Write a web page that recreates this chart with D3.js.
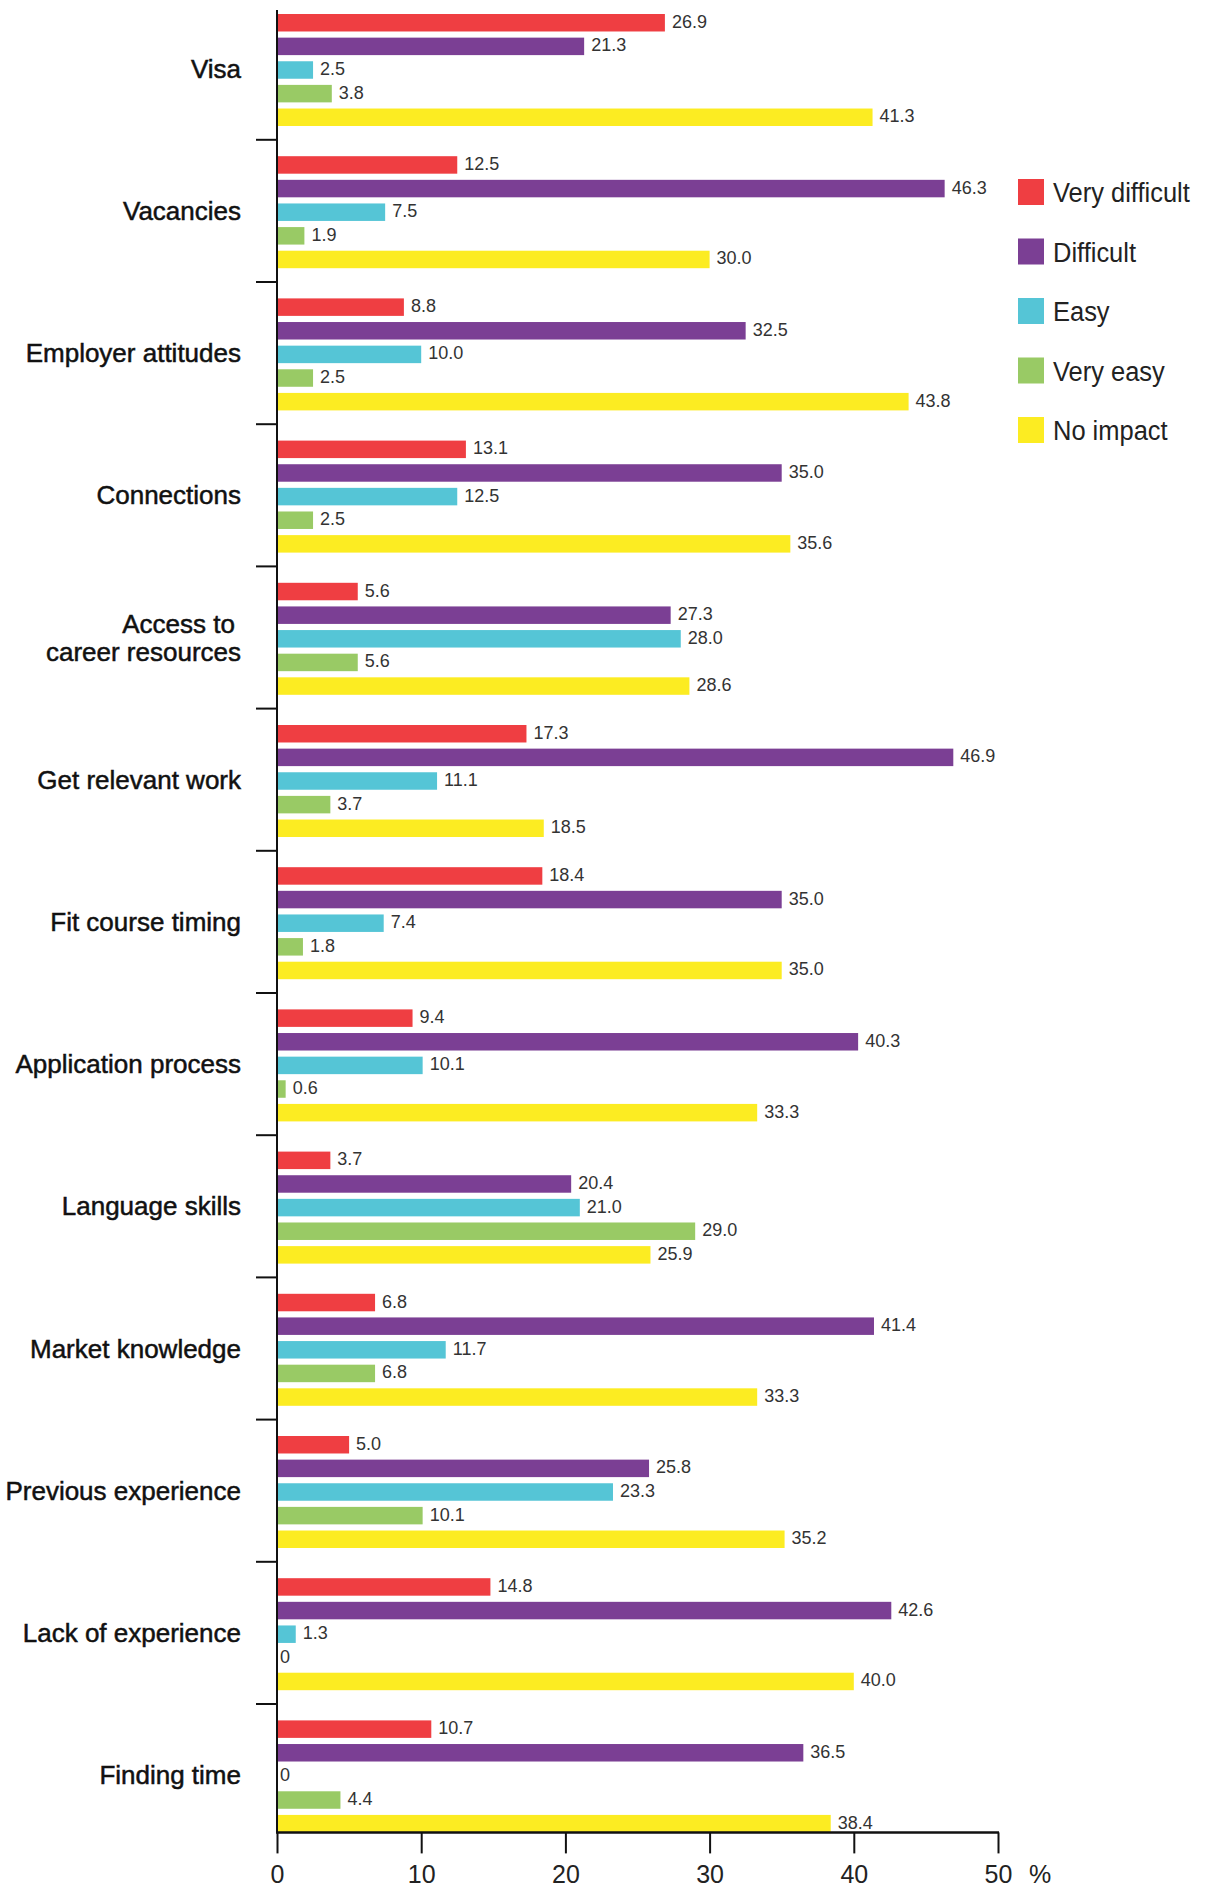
<!DOCTYPE html>
<html>
<head>
<meta charset="utf-8">
<script src="https://cdn.jsdelivr.net/npm/d3@7"></script>
<style>
  html, body { margin: 0; padding: 0; background: #fff; }
  svg { display: block; }
</style>
</head>
<body>
<svg id="chart" width="1211" height="1890"></svg>
<script>
const categories = [
  "Visa", "Vacancies", "Employer attitudes", "Connections",
  "Access to career resources", "Get relevant work", "Fit course timing",
  "Application process", "Language skills", "Market knowledge",
  "Previous experience", "Lack of experience", "Finding time"
];
const seriesNames = ["Very difficult", "Difficult", "Easy", "Very easy", "No impact"];
const seriesColors = ["#EF3E42", "#7B3F94", "#55C5D6", "#99CA65", "#FCEC22"];

const veryDifficult = [26.9, 12.5, 8.8, 13.1, 5.6, 17.3, 18.4, 9.4, 3.7, 6.8, 5.0, 14.8, 10.7];
const difficult     = [21.3, 46.3, 32.5, 35.0, 27.3, 46.9, 35.0, 40.3, 20.4, 41.4, 25.8, 42.6, 36.5];
const easy          = [2.5, 7.5, 10.0, 12.5, 28.0, 11.1, 7.4, 10.1, 21.0, 11.7, 23.3, 1.3, 0];
const veryEasy      = [3.8, 1.9, 2.5, 2.5, 5.6, 3.7, 1.8, 0.6, 29.0, 6.8, 10.1, 0, 4.4];
const noImpact      = [41.3, 30.0, 43.8, 35.6, 28.6, 18.5, 35.0, 33.3, 25.9, 33.3, 35.2, 40.0, 38.4];

const xTicks = [0, 10, 20, 30, 40, 50];

const seriesValues = [veryDifficult, difficult, easy, veryEasy, noImpact];

const svg = d3.select("#chart");
const FONT = "'Liberation Sans', Arial, Helvetica, sans-serif";

const x = d3.scaleLinear().domain([0, 50]).range([277, 998]);
const bandStep = 142.2;
const y0 = -2.4;
const y = d3.scaleBand().domain(categories).range([y0, y0 + bandStep * categories.length]).padding(0);
const yInner = d3.scaleBand().domain(seriesNames).range([16.4, 128.4]).paddingInner(0.26).paddingOuter(0);

const axisBottomY = y(categories[categories.length - 1]) + 128.4;

// Bars
const groups = svg.append("g").selectAll("g")
  .data(categories)
  .join("g")
  .attr("transform", d => `translate(0,${y(d)})`);

groups.each(function(cat, ci) {
  const g = d3.select(this);
  const rows = seriesNames.map((s, si) => ({ s, si, v: seriesValues[si][ci] }));
  g.selectAll("rect")
    .data(rows)
    .join("rect")
    .attr("x", x(0))
    .attr("y", d => yInner(d.s))
    .attr("width", d => x(d.v) - x(0))
    .attr("height", yInner.bandwidth())
    .attr("fill", d => seriesColors[d.si]);
  g.selectAll("text.val")
    .data(rows)
    .join("text")
    .attr("class", "val")
    .attr("x", d => x(d.v) + (d.v === 0 ? 3 : 7))
    .attr("y", d => yInner(d.s) + yInner.bandwidth() / 2 - 1.5)
    .attr("dy", "0.36em")
    .attr("font-family", FONT)
    .attr("font-size", 18)
    .attr("fill", "#333")
    .text(d => d.v === 0 ? "0" : d.v.toFixed(1));
});

// Category labels
const labelG = svg.append("g");
categories.forEach(cat => {
  const cy = y(cat) + bandStep / 2;
  const words = cat === "Access to career resources" ? ["Access to", "career resources"] : [cat];
  const t = labelG.append("text")
    .attr("x", 241)
    .attr("text-anchor", "end")
    .attr("font-family", FONT)
    .attr("font-size", 26)
    .attr("fill", "#111")
    .attr("stroke", "#111")
    .attr("stroke-width", 0.5);
  if (words.length === 1) {
    t.attr("y", cy).attr("dy", "0.35em").text(cat);
  } else {
    t.append("tspan").attr("x", 235).attr("y", cy - 14).attr("dy", "0.35em").text(words[0]);
    t.append("tspan").attr("x", 241).attr("y", cy + 14).attr("dy", "0.35em").text(words[1]);
  }
});

// Category separator ticks
svg.append("g").selectAll("line")
  .data(categories.slice(1))
  .join("line")
  .attr("x1", 256).attr("x2", x(0))
  .attr("y1", d => y(d)).attr("y2", d => y(d))
  .attr("stroke", "#111").attr("stroke-width", 2);

// Vertical axis line
svg.append("line")
  .attr("x1", x(0)).attr("x2", x(0))
  .attr("y1", 10).attr("y2", axisBottomY)
  .attr("stroke", "#111").attr("stroke-width", 2);

// Bottom axis
const xAxis = d3.axisBottom(x).tickValues(xTicks).tickSize(21).tickPadding(12).tickFormat(d3.format("d"));
const axG = svg.append("g")
  .attr("transform", `translate(0,${axisBottomY})`)
  .call(xAxis);
axG.select(".domain").remove();
axG.selectAll(".tick line").attr("stroke", "#111").attr("stroke-width", 2);
axG.selectAll(".tick text")
  .attr("font-family", FONT)
  .attr("font-size", 25)
  .attr("fill", "#222");
axG.append("line")
  .attr("x1", x(0) - 1).attr("x2", x(50) + 1)
  .attr("y1", 0).attr("y2", 0)
  .attr("stroke", "#111").attr("stroke-width", 2.5);
axG.append("text")
  .attr("x", x(50) + 31)
  .attr("y", 33)
  .attr("dy", "0.71em")
  .attr("font-family", FONT)
  .attr("font-size", 25)
  .attr("fill", "#222")
  .attr("text-anchor", "start")
  .text("%");

// Legend
const legend = svg.append("g").attr("transform", "translate(1018,179)");
const li = legend.selectAll("g")
  .data(seriesNames)
  .join("g")
  .attr("transform", (d, i) => `translate(0,${i * 59.5})`);
li.append("rect")
  .attr("width", 26).attr("height", 26)
  .attr("fill", (d, i) => seriesColors[i]);
li.append("text")
  .attr("transform", "translate(35,13) scale(0.91,1)")
  .attr("dy", "0.36em")
  .attr("font-family", FONT)
  .attr("font-size", 28)
  .attr("fill", "#222")
  .text(d => d);
</script>
</body>
</html>
